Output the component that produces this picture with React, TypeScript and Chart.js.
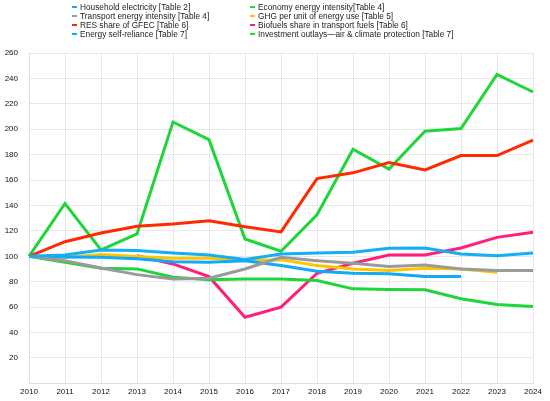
import { useEffect, useRef } from "react";
import Chart from "chart.js/auto";

const years = ["2010", "2011", "2012", "2013", "2014", "2015", "2016", "2017", "2018", "2019", "2020", "2021", "2022", "2023", "2024"];

const householdElectricity = [100, 101, 105, 104.5, 102.7, 101.1, 97.5, 101.9, 102.7, 103.2, 106.3, 106.6, 101.9, 100.5, 102.7];
const transportIntensity = [100, 96.6, 90.8, 85.6, 82.2, 82.7, 90, 99.2, 96.6, 94.5, 91.9, 93.2, 90.1, 88.8, 88.8];
const resShare = [100, 111.5, 118.3, 123.6, 125.4, 128, 123.3, 119.2, 161.2, 165.7, 173.8, 168, 179.3, 179.3, 191.4];
const selfReliance = [100, 99.5, 99.2, 98, 95.8, 95.3, 96.5, 92.7, 88.2, 86.7, 86.2, 84.1, 84.1, null, null];
const economyIntensity = [100, 95.3, 90.6, 90.1, 83.5, 81.5, 82.2, 82.2, 80.9, 74.4, 73.9, 73.6, 66.6, 62.1, 60.5];
const ghgPerEnergy = [100, 99, 101.5, 99.8, 98.4, 98.5, 97.2, 97.2, 92.7, 90.1, 88.8, 90.6, 90.1, 87.4, null];
const biofuelsShare = [null, null, null, 100.5, 94, 84, 52.1, 60, 86.7, 94.5, 101.1, 101.1, 106.6, 114.9, 118.9];
const investmentOutlays = [100, 141.6, 105, 117.6, 205.7, 191.8, 113.6, 104, 132.7, 184.3, 168.6, 198.4, 200.5, 243.2, 229.3];

const yTicks = [0, 20, 40, 60, 80, 100, 120, 140, 160, 180, 200, 220, 240, 260];

const series = [
  { label: "Household electricity [Table 2]", data: householdElectricity, color: "#13AEF3" },
  { label: "Transport energy intensity [Table 4]", data: transportIntensity, color: "#9A9A9A" },
  { label: "RES share of GFEC [Table 6]", data: resShare, color: "#FF2A00" },
  { label: "Energy self-reliance [Table 7]", data: selfReliance, color: "#0FAAF8" },
  { label: "Economy energy intensity[Table 4]", data: economyIntensity, color: "#1ED63A" },
  { label: "GHG per unit of energy use [Table 5]", data: ghgPerEnergy, color: "#FFC400" },
  { label: "Biofuels share in transport fuels [Table 6]", data: biofuelsShare, color: "#FF1F7A" },
  { label: "Investment outlays\u2014air & climate protection [Table 7]", data: investmentOutlays, color: "#1ED63A" },
];

const FONT = "'Liberation Sans', Arial, Helvetica, sans-serif";

export default function App() {
  const chartRef = useRef<HTMLCanvasElement>(null);
  const chartInstance = useRef<Chart | null>(null);

  useEffect(() => {
    if (!chartRef.current) return;
    const ctx = chartRef.current.getContext("2d");
    if (!ctx) return;

    if (chartInstance.current) {
      chartInstance.current.destroy();
    }

    chartInstance.current = new Chart(ctx, {
      type: "line",
      data: {
        labels: years,
        datasets: series.map((s) => ({
          label: s.label,
          data: s.data,
          borderColor: s.color,
          backgroundColor: s.color,
          borderWidth: 3,
          pointRadius: 0,
          tension: 0,
          spanGaps: false,
        })),
      },
      options: {
        animation: false,
        responsive: false,
        maintainAspectRatio: false,
        layout: { padding: { top: 53, left: 4, right: 17, bottom: 0 } },
        plugins: {
          legend: { display: false },
          tooltip: { enabled: false },
        },
        scales: {
          x: {
            grid: { color: "#e8e8e8", drawTicks: false },
            border: { color: "#e0e0e0" },
            ticks: {
              padding: 4,
              color: "#111",
              font: { family: FONT, size: 8 },
              maxRotation: 0,
              autoSkip: false,
            },
          },
          y: {
            min: yTicks[0],
            max: yTicks[yTicks.length - 1],
            grid: { color: "#e8e8e8", drawTicks: false },
            border: { color: "#e0e0e0" },
            afterBuildTicks: (axis) => {
              axis.ticks = yTicks.map((v) => ({ value: v }));
            },
            afterFit: (axis) => {
              axis.width = 25;
            },
            ticks: {
              padding: 11,
              color: "#111",
              font: { family: FONT, size: 8 },
              callback: (v) => (v === 0 ? "" : String(v)),
            },
          },
        },
      },
    });

    return () => {
      if (chartInstance.current) {
        chartInstance.current.destroy();
        chartInstance.current = null;
      }
    };
  }, []);

  const left = series.slice(0, 4);
  const right = series.slice(4);

  const renderItem = (s: (typeof series)[number]) => (
    <div key={s.label} style={{ display: "flex", alignItems: "center", height: 9 }}>
      <span style={{ display: "inline-block", width: 5, height: 2, background: s.color, marginRight: 3 }} />
      <span>{s.label}</span>
    </div>
  );

  const legendCol = {
    position: "absolute" as const,
    top: 2.5,
    fontFamily: FONT,
    fontSize: 8.3,
    color: "#222",
    lineHeight: "9px",
    whiteSpace: "nowrap" as const,
  };

  return (
    <div style={{ position: "fixed", left: 0, top: 0, width: 550, height: 401, background: "#fff" }}>
      <canvas ref={chartRef} width={550} height={401} style={{ display: "block" }}></canvas>
      <div style={{ ...legendCol, left: 72 }}>{left.map(renderItem)}</div>
      <div style={{ ...legendCol, left: 250 }}>{right.map(renderItem)}</div>
    </div>
  );
}
